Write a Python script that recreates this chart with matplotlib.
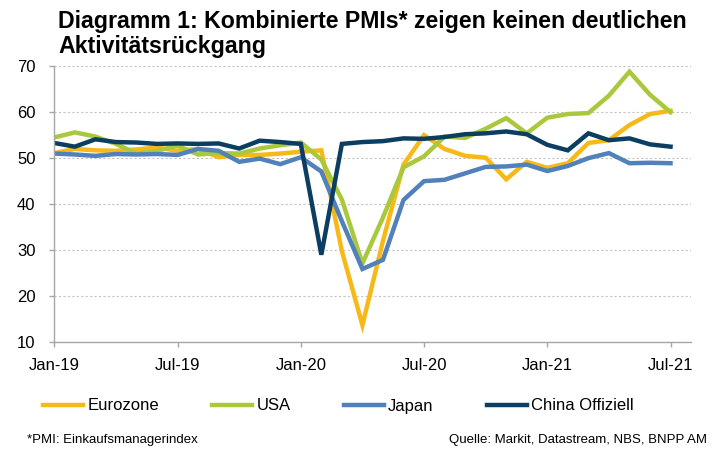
import numpy as np
import matplotlib
matplotlib.use('Agg')
import matplotlib.pyplot as plt
from matplotlib import font_manager

# Daten (Monatswerte Jan-19 bis Jul-21)
months = ['Jan-19', 'Feb-19', 'Mar-19', 'Apr-19', 'May-19', 'Jun-19', 'Jul-19', 'Aug-19',
          'Sep-19', 'Oct-19', 'Nov-19', 'Dec-19', 'Jan-20', 'Feb-20', 'Mar-20', 'Apr-20',
          'May-20', 'Jun-20', 'Jul-20', 'Aug-20', 'Sep-20', 'Oct-20', 'Nov-20', 'Dec-20',
          'Jan-21', 'Feb-21', 'Mar-21', 'Apr-21', 'May-21', 'Jun-21', 'Jul-21']
eurozone = [51.0, 51.9, 51.6, 51.5, 51.8, 52.2, 51.5, 51.9, 50.1, 50.6, 50.6, 50.9,
            51.3, 51.6, 29.7, 13.6, 31.9, 48.5, 54.9, 51.9, 50.4, 50.0, 45.3, 49.1,
            47.8, 48.8, 53.2, 53.8, 57.1, 59.5, 60.2]
usa = [54.4, 55.5, 54.6, 53.0, 50.9, 51.5, 52.6, 50.7, 51.0, 50.9, 52.0, 52.7,
       53.3, 49.6, 40.9, 27.0, 37.0, 47.9, 50.3, 54.6, 54.3, 56.3, 58.6, 55.3,
       58.7, 59.5, 59.7, 63.5, 68.7, 63.7, 59.9]
japan = [50.9, 50.7, 50.4, 50.8, 50.7, 50.8, 50.6, 51.9, 51.5, 49.1, 49.8, 48.6,
         50.1, 47.0, 36.2, 25.8, 27.8, 40.8, 44.9, 45.2, 46.6, 48.0, 48.1, 48.5,
         47.1, 48.2, 49.9, 51.0, 48.8, 48.9, 48.8]
china = [53.2, 52.4, 54.0, 53.4, 53.3, 53.0, 53.1, 53.0, 53.1, 52.0, 53.7, 53.4,
         53.0, 28.9, 53.0, 53.4, 53.6, 54.2, 54.1, 54.5, 55.1, 55.3, 55.7, 55.1,
         52.8, 51.6, 55.3, 53.8, 54.2, 52.9, 52.4]
tick_idx = [0, 6, 12, 18, 24, 30]

# Schrift: Arial Narrow nachbilden, falls vorhanden
names = {f.name for f in font_manager.fontManager.ttflist}
if 'Liberation Sans Narrow' in names:
    fam = ['Liberation Sans Narrow', 'DejaVu Sans']
    fs_title, fs_tick, fs_leg, fs_note = 19.5, 13.5, 13.5, 11
else:
    fam = ['Liberation Sans', 'DejaVu Sans']
    fs_title, fs_tick, fs_leg, fs_note = 16.7, 12, 12, 9.5
plt.rcParams['font.family'] = fam

fig = plt.figure(figsize=(7.25, 4.51), dpi=100)
ax = fig.add_axes([0.0749, 0.2424, 0.8783, 0.6119])

x = np.arange(len(months))
ax.plot(x, eurozone, color='#F7B918', lw=3.2, label='Eurozone', solid_joinstyle='miter')
ax.plot(x, usa, color='#AAC83C', lw=3.2, label='USA', solid_joinstyle='miter')
ax.plot(x, japan, color='#5081BA', lw=3.2, label='Japan', solid_joinstyle='miter')
ax.plot(x, china, color='#0C3E62', lw=3.2, label='China Offiziell', solid_joinstyle='miter')

ax.set_xlim(0, 31)
ax.set_ylim(10, 70)
ax.set_yticks(range(10, 71, 10))
ax.set_xticks(tick_idx)
ax.set_xticklabels([months[i] for i in tick_idx])
ax.yaxis.grid(True, ls=(0, (2, 2)), color='#C4C4C4', lw=0.8)
ax.set_axisbelow(True)
for s in ['top', 'right']:
    ax.spines[s].set_visible(False)
for s in ['left', 'bottom']:
    ax.spines[s].set_color('#A6A6A6')
    ax.spines[s].set_linewidth(1.0)
ax.tick_params(axis='both', colors='#A6A6A6', labelcolor='black', labelsize=fs_tick,
               length=3.6, width=1.0)
ax.tick_params(axis='x', pad=8)
ax.tick_params(axis='y', pad=10)

fig.text(58 / 725, 1 - 28 / 451, 'Diagramm 1: Kombinierte PMIs* zeigen keinen deutlichen',
         fontsize=fs_title, fontweight='bold', va='baseline', ha='left')
fig.text(58 / 725, 1 - 53 / 451, 'Aktivitätsrückgang',
         fontsize=fs_title, fontweight='bold', va='baseline', ha='left')

fig.legend(loc='center left', bbox_to_anchor=(43 / 725, 1 - 406 / 451), ncol=4,
           frameon=False, fontsize=fs_leg, borderpad=0, borderaxespad=0,
           handlelength=2.4, handletextpad=0.25, columnspacing=3.2)

fig.text(27 / 725, 1 - 443 / 451, '*PMI: Einkaufsmanagerindex', fontsize=fs_note,
         va='baseline', ha='left')
fig.text(707 / 725, 1 - 443 / 451, 'Quelle: Markit, Datastream, NBS, BNPP AM',
         fontsize=fs_note, va='baseline', ha='right')

fig.savefig('out.png', dpi=100)
